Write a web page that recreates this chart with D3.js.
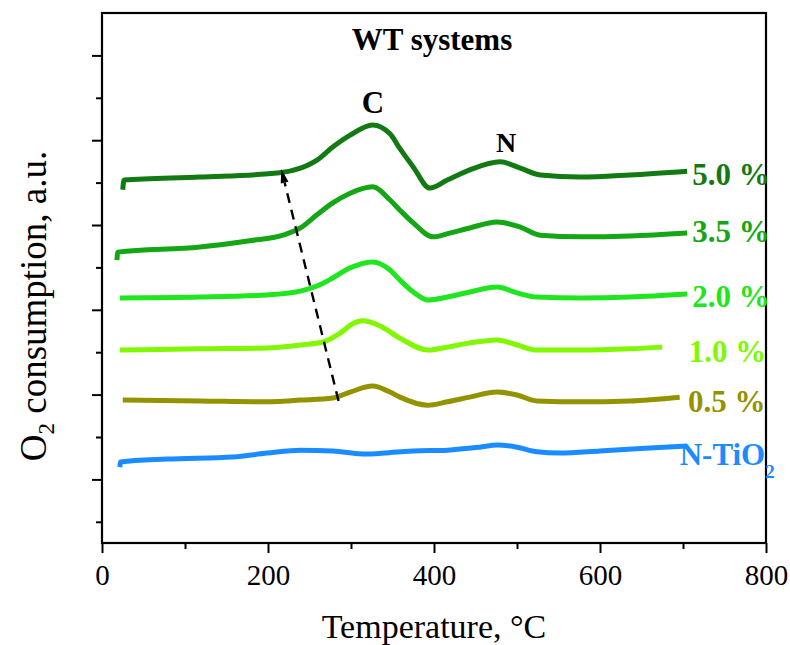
<!DOCTYPE html>
<html>
<head>
<meta charset="utf-8">
<script src="https://cdn.jsdelivr.net/npm/d3@7"></script>
<style>
    body { margin: 0; background: #fff; }
    text { font-family: "Liberation Serif", "Times New Roman", serif; }
</style>
</head>
<body>
<div id="chart"></div>
<script>
// TPO profiles, [temperature in C, O2 consumption (offset, a.u.)]
let wt50 = [[25, 8.33], [26.5, 8.56], [118, 8.63], [214, 8.73], [239, 8.84], [259, 9.03], [278, 9.34], [299, 9.62],
    [326, 9.86], [347, 9.65], [359, 9.30], [375, 8.87], [395, 8.37], [416, 8.56], [443, 8.80],
    [480, 8.99], [504, 8.84], [528, 8.68], [576, 8.63], [636, 8.68], [705, 8.77]];
let wt35 = [[18, 6.67], [19, 6.86], [118, 6.98], [178, 7.13], [218, 7.26], [239, 7.43], [259, 7.74], [278, 8.02],
    [299, 8.25], [326, 8.40], [347, 8.09], [359, 7.85], [375, 7.55], [399, 7.22], [419, 7.31],
    [443, 7.43], [476, 7.57], [504, 7.45], [528, 7.26], [576, 7.22], [636, 7.24], [705, 7.31]];
let wt20 = [[21.5, 5.78], [118, 5.80], [199, 5.85], [239, 5.94], [259, 6.06], [278, 6.25], [299, 6.49], [326, 6.63],
    [347, 6.44], [359, 6.20], [375, 5.92], [393, 5.73], [416, 5.80], [443, 5.92], [476, 6.04], [500, 5.90],
    [524, 5.80], [576, 5.78], [636, 5.80], [705, 5.87]];
let wt10 = [[21.5, 4.55], [118, 4.58], [199, 4.60], [239, 4.67], [266, 4.74], [287, 4.95], [302, 5.17], [314, 5.24],
    [335, 5.12], [359, 4.83], [393, 4.55], [416, 4.62], [443, 4.72], [476, 4.79], [500, 4.67],
    [524, 4.55], [576, 4.55], [636, 4.58], [675, 4.62]];
let wt05 = [[25, 3.37], [118, 3.35], [199, 3.33], [239, 3.37], [278, 3.42], [299, 3.56], [326, 3.70],
    [347, 3.56], [359, 3.44], [392, 3.25], [416, 3.33], [443, 3.44], [476, 3.56], [500, 3.49], [524, 3.35],
    [576, 3.33], [636, 3.35], [696, 3.44]];
let nTiO2 = [[21.5, 1.79], [22.5, 1.91], [78, 1.98], [158, 2.03], [199, 2.12], [239, 2.19], [278, 2.17], [319, 2.10],
    [359, 2.15], [375, 2.17], [416, 2.19], [455, 2.26], [476, 2.31], [500, 2.26], [524, 2.15], [552, 2.12],
    [600, 2.17], [660, 2.24], [705, 2.29]];

let seriesData = [wt50, wt35, wt20, wt10, wt05, nTiO2];
let seriesNames = ["5.0 %", "3.5 %", "2.0 %", "1.0 %", "0.5 %", "N-TiO"];
let seriesColors = ["#137a13", "#14a614", "#20e620", "#80f800", "#939300", "#1a8cff"];
// label anchor (temperature, value) at the right end of each curve
let labelT = [711, 711, 711, 707, 706, 696];
let labelV = [8.44, 7.10, 5.57, 4.27, 3.09, 1.84];

// dashed guide line through C peak onsets
let shiftLine = [[285, 3.35], [216, 8.82]];

let xTicks = [0, 100, 200, 300, 400, 500, 600, 700, 800];
let yTicks = [0.5, 1.5, 2.5, 3.5, 4.5, 5.5, 6.5, 7.5, 8.5, 9.5, 10.5, 11.5];

const width = 790, height = 645;
const margin = {top: 13, right: 24, bottom: 102, left: 102};

let svg = d3.select("#chart").append("svg")
    .attr("width", width)
    .attr("height", height);

let x = d3.scaleLinear().domain([0, 800]).range([margin.left, width - margin.right]);
let y = d3.scaleLinear().domain([0, 12.5]).range([height - margin.bottom, margin.top]);

// curves
let line = d3.line()
    .x(d => x(d[0]))
    .y(d => y(d[1]))
    .curve(d3.curveMonotoneX);

svg.selectAll(".tpo")
    .data(seriesData)
    .enter().append("path")
    .attr("class", "tpo")
    .attr("d", line)
    .attr("fill", "none")
    .attr("stroke", (d, i) => seriesColors[i])
    .attr("stroke-width", 5)
    .attr("stroke-linejoin", "round");

// dashed arrow
let p0 = [x(shiftLine[0][0]), y(shiftLine[0][1])];
let p1 = [x(shiftLine[1][0]), y(shiftLine[1][1])];
let len = Math.hypot(p1[0] - p0[0], p1[1] - p0[1]);
let ux = (p1[0] - p0[0]) / len, uy = (p1[1] - p0[1]) / len;
const headLen = 14, headHalf = 4;
let base = [p1[0] - ux * headLen, p1[1] - uy * headLen];

svg.append("line")
    .attr("x1", p0[0]).attr("y1", p0[1])
    .attr("x2", base[0]).attr("y2", base[1])
    .attr("stroke", "#000")
    .attr("stroke-width", 2.4)
    .attr("stroke-dasharray", "10,7");

svg.append("path")
    .attr("d", "M" + p1 + "L" + [base[0] - uy * headHalf, base[1] + ux * headHalf] +
        "L" + [base[0] + uy * headHalf, base[1] - ux * headHalf] + "Z")
    .attr("fill", "#000");

// axes
let xAxis = svg.append("g")
    .attr("transform", "translate(0," + y(0) + ")")
    .call(d3.axisBottom(x).tickValues(xTicks).tickSize(0).tickFormat(d => d % 200 === 0 ? d : ""));
xAxis.select(".domain").remove();
xAxis.selectAll(".tick line").remove();
xAxis.selectAll(".tick").append("line")
    .attr("y2", d => d % 200 === 0 ? 10 : 6)
    .attr("stroke", "#000")
    .attr("stroke-width", 2);
xAxis.selectAll(".tick text")
    .attr("y", 42)
    .attr("dy", 0)
    .attr("fill", "#000")
    .style("font-size", "29px");

let yAxis = svg.append("g")
    .attr("transform", "translate(" + x(0) + ",0)")
    .call(d3.axisLeft(y).tickValues(yTicks).tickSize(0).tickFormat(""));
yAxis.select(".domain").remove();
yAxis.selectAll(".tick line").remove();
yAxis.selectAll(".tick").append("line")
    .attr("x2", (d, i) => i % 2 === 1 ? -10 : -6)
    .attr("stroke", "#000")
    .attr("stroke-width", 2);

// frame
svg.append("rect")
    .attr("x", x(0))
    .attr("y", y(12.5))
    .attr("width", x(800) - x(0))
    .attr("height", y(0) - y(12.5))
    .attr("fill", "none")
    .attr("stroke", "#000")
    .attr("stroke-width", 2.2);

// series labels
let labels = svg.selectAll(".lab")
    .data(seriesNames)
    .enter().append("text")
    .attr("class", "lab")
    .attr("x", (d, i) => x(labelT[i]))
    .attr("y", (d, i) => y(labelV[i]))
    .attr("fill", (d, i) => seriesColors[i])
    .style("font-size", "31px")
    .style("font-weight", "bold")
    .text(d => d);
labels.filter((d, i) => i === 5).append("tspan")
    .attr("dy", 13)
    .style("font-size", "19px")
    .text("2");

// annotations
svg.append("text")
    .attr("x", 432)
    .attr("y", 50)
    .attr("text-anchor", "middle")
    .style("font-size", "31px")
    .style("font-weight", "bold")
    .text("WT systems");

svg.append("text")
    .attr("x", x(326.5))
    .attr("y", y(10.14))
    .attr("text-anchor", "middle")
    .style("font-size", "31px")
    .style("font-weight", "bold")
    .text("C");

svg.append("text")
    .attr("x", x(487))
    .attr("y", y(9.22))
    .attr("text-anchor", "middle")
    .style("font-size", "28px")
    .style("font-weight", "bold")
    .text("N");

// axis titles
svg.append("text")
    .attr("x", (x(0) + x(800)) / 2)
    .attr("y", 638)
    .attr("text-anchor", "middle")
    .style("font-size", "34px")
    .text("Temperature, \u00B0C");

let yTitle = svg.append("text")
    .attr("transform", "translate(46,306) rotate(-90)")
    .attr("text-anchor", "middle")
    .style("font-size", "37px");
yTitle.append("tspan").text("O");
yTitle.append("tspan").attr("dy", 8).style("font-size", "23px").text("2");
yTitle.append("tspan").attr("dy", -8).text(" consumption, a.u.");
</script>
</body>
</html>
